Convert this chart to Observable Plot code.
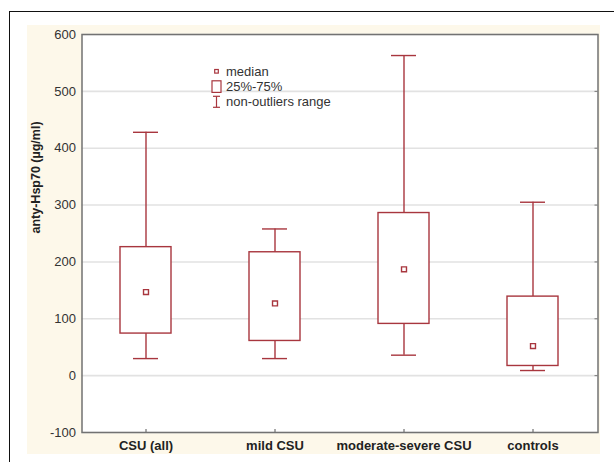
<!DOCTYPE html>
<html>
<head>
<meta charset="utf-8">
<script src="https://cdn.jsdelivr.net/npm/d3@7"></script>
<script src="https://cdn.jsdelivr.net/npm/@observablehq/plot@0.6"></script>
<style>
  html, body { margin: 0; padding: 0; background: #fff; }
  #wrap { position: relative; width: 614px; height: 462px; overflow: hidden; font-family: "Liberation Sans", Arial, sans-serif; }
  #outer { position: absolute; left: 9px; top: 11px; width: 620px; height: 470px; border-left: 1.5px solid #111; border-top: 1.5px solid #111; box-sizing: border-box; }
  #cream { position: absolute; left: 27px; top: 25px; width: 573px; height: 429px; background: #fdf8ea; }
  #chart { position: absolute; left: 0; top: 0; }
  #legend { position: absolute; left: 0; top: 0; pointer-events: none; }
</style>
</head>
<body>
<div id="wrap">
  <div id="outer"></div>
  <div id="cream"></div>
  <div id="chart"></div>
  <svg id="legend" width="614" height="462"></svg>
</div>
<script>
const categories = ["CSU (all)", "mild CSU", "moderate-severe CSU", "controls"];
const medians   = [147, 127, 187, 52];
const q1        = [74, 61, 91, 17];
const q3        = [226, 217, 286, 139];
const lowRange  = [30, 30, 36, 9];
const highRange = [428, 258, 563, 305];
const yTicks    = [-100, 0, 100, 200, 300, 400, 500, 600];
const legendLabels = ["median", "25%-75%", "non-outliers range"];

const data = categories.map((c, i) => ({
  cat: c, median: medians[i], q1: q1[i], q3: q3[i], low: lowRange[i], high: highRange[i]
}));

const W = 614, H = 462;
const mL = 81.5, mR = 16.5, mT = 34, mB = 30;
const plotW = W - mL - mR, plotH = H - mT - mB;
const red = "#a8363e";

const chart = Plot.plot({
  width: W, height: H,
  marginLeft: mL, marginRight: mR, marginTop: mT, marginBottom: mB,
  style: { fontFamily: "'Liberation Sans', Arial, sans-serif", fontSize: "13px", background: "transparent", color: "#333" },
  x: { type: "band", domain: categories, paddingInner: 0.604, paddingOuter: 0.302 },
  y: { domain: [-100, 600], ticks: yTicks },
  marks: [
    Plot.frame({ fill: "white" }),
    Plot.gridY(yTicks, { stroke: "#e2e2e2", strokeOpacity: 1, strokeWidth: 1.6 }),
    Plot.ruleY(yTicks, { y: d => d, insetLeft: plotW - 3, stroke: "#777", strokeWidth: 1 }),
    Plot.ruleX(categories, { x: d => d, insetTop: plotH - 3, stroke: "#555", strokeWidth: 1 }),
    Plot.ruleX(data, { x: "cat", y1: "low", y2: "q1", stroke: red, strokeWidth: 1.4 }),
    Plot.ruleX(data, { x: "cat", y1: "q3", y2: "high", stroke: red, strokeWidth: 1.4 }),
    Plot.tickY(data, { x: "cat", y: "low", insetLeft: 13, insetRight: 13, stroke: red, strokeWidth: 1.4 }),
    Plot.tickY(data, { x: "cat", y: "high", insetLeft: 13, insetRight: 13, stroke: red, strokeWidth: 1.4 }),
    Plot.barY(data, { x: "cat", y1: "q1", y2: "q3", fill: "white", stroke: red, strokeWidth: 1.4 }),
    Plot.dot(data, { x: "cat", y: "median", symbol: "square", r: 2.8, fill: "white", stroke: red, strokeWidth: 1.4 }),
    Plot.axisY({ ticks: yTicks, tickFormat: d => String(d), tickSize: 0, tickPadding: 6, label: null, fill: "#333", fontSize: 13 }),
    Plot.axisX({ tickSize: 0, tickPadding: 8, label: null, fill: "#222", fontSize: 13, fontWeight: "bold" }),
    Plot.text(["anty-Hsp70 (µg/ml)"], { frameAnchor: "left", rotate: -90, dx: -46, fontWeight: "bold", fontSize: 12.5, fill: "#222", text: d => d }),
    Plot.frame({ stroke: "#727272", strokeWidth: 1.5 })
  ]
});
document.getElementById("chart").appendChild(chart);

// Legend (inside the plot area)
const lg = d3.select("#legend");
const lx = 216.5, tx = 226, rows = [71.3, 86.6, 101.8];
lg.append("rect").attr("x", lx - 1.8).attr("y", rows[0] - 1.8).attr("width", 3.6).attr("height", 3.6)
  .attr("fill", "white").attr("stroke", red).attr("stroke-width", 1.2);
lg.append("rect").attr("x", lx - 4.5).attr("y", rows[1] - 5.8).attr("width", 9).attr("height", 11.6)
  .attr("fill", "white").attr("stroke", red).attr("stroke-width", 1.2);
lg.append("line").attr("x1", lx).attr("x2", lx).attr("y1", rows[2] - 5.5).attr("y2", rows[2] + 5.5)
  .attr("stroke", red).attr("stroke-width", 1.2);
lg.append("line").attr("x1", lx - 3.5).attr("x2", lx + 3.5).attr("y1", rows[2] - 5.5).attr("y2", rows[2] - 5.5)
  .attr("stroke", red).attr("stroke-width", 1.2);
lg.append("line").attr("x1", lx - 3.5).attr("x2", lx + 3.5).attr("y1", rows[2] + 5.5).attr("y2", rows[2] + 5.5)
  .attr("stroke", red).attr("stroke-width", 1.2);
legendLabels.forEach((t, i) => {
  lg.append("text").attr("x", tx).attr("y", rows[i]).attr("dy", "0.35em")
    .attr("font-family", "'Liberation Sans', Arial, sans-serif").attr("font-size", 13).attr("fill", "#333").text(t);
});
</script>
</body>
</html>
